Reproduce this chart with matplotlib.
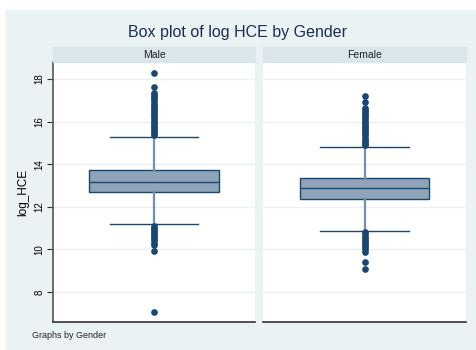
import numpy as np
import matplotlib.pyplot as plt

# box statistics for log household consumption expenditure, by gender
genders = ["Male", "Female"]
q1 = [12.71, 12.36]
medians = [13.16, 12.86]
q3 = [13.72, 13.34]
whisker_lo = [11.20, 10.87]
whisker_hi = [15.26, 14.81]

# outside values (dense runs listed as read along the column)
male_out = [18.30, 17.62, 17.35, 17.25, 17.15, 17.05, 16.95, 16.85, 16.75,
            16.65, 16.55, 16.45, 16.35, 16.25, 16.15, 16.05, 15.95, 15.85,
            15.75, 15.65, 15.55, 15.45, 15.35,
            11.12, 11.02, 10.92, 10.82, 10.72, 10.62, 10.52, 10.42, 10.32,
            10.22, 9.92, 7.06]
female_out = [17.20, 16.90, 16.65, 16.55, 16.45, 16.35, 16.25, 16.15, 16.05,
              15.95, 15.85, 15.75, 15.65, 15.55, 15.45, 15.35, 15.25, 15.15,
              15.05, 14.95, 14.88,
              10.80, 10.70, 10.60, 10.50, 10.40, 10.30, 10.20, 10.10, 10.00,
              9.88, 9.40, 9.10]
outliers = [male_out, female_out]

navy = "#1a476f"
fill = "#8fa4b9"
outer_bg = "#eaf2f3"
strip_bg = "#d9e6eb"

W, H = 476, 350
fig = plt.figure(figsize=(W / 100, H / 100), dpi=100)
fig.patch.set_facecolor("white")

# light background panel behind everything
fig.add_artist(plt.Rectangle((6 / W, 0), 1 - 6 / W, 1 - 10 / H,
                             transform=fig.transFigure, color=outer_bg, zorder=0))

fig.text(238 / W, 1 - 32 / H, "Box plot of log HCE by Gender", ha="center",
         va="center", fontsize=11.5, color="#1e2d50", family="Liberation Sans")

panels = [(53, 255), (263, 466)]
top, bottom, strip_top = 62, 322, 47

for i, (x0, x1) in enumerate(panels):
    ax = fig.add_axes([x0 / W, 1 - bottom / H, (x1 - x0) / W, (bottom - top) / H])
    ax.set_facecolor("white")
    stats = [dict(med=medians[i], q1=q1[i], q3=q3[i], whislo=whisker_lo[i],
                  whishi=whisker_hi[i], fliers=outliers[i])]
    ax.bxp(stats, positions=[0], widths=[0.64], patch_artist=True,
           boxprops=dict(facecolor=fill, edgecolor=navy, linewidth=1.0),
           medianprops=dict(color=navy, linewidth=1.0),
           whiskerprops=dict(color="#7690aa", linewidth=1.6),
           capprops=dict(color=navy, linewidth=1.0), capwidths=[0.44],
           flierprops=dict(marker="o", markerfacecolor=navy, markeredgecolor=navy,
                           markersize=3.8, linestyle="none"))
    ax.set_xlim(-0.5, 0.5)
    ax.set_ylim(6.59, 18.8)
    ax.set_yticks([8, 10, 12, 14, 16, 18])
    ax.grid(axis="y", color=outer_bg, linewidth=1.0)
    ax.set_axisbelow(True)
    ax.set_xticks([])
    for s in ["top", "right"]:
        ax.spines[s].set_visible(False)
    ax.spines["bottom"].set_color("#333333")
    ax.spines["bottom"].set_linewidth(1.2)
    if i == 0:
        ax.spines["left"].set_color("#555555")
        ax.spines["left"].set_linewidth(1.2)
        ax.tick_params(axis="y", labelsize=7, length=4, color="#333333",
                       labelrotation=90, pad=2)
        for lab in ax.get_yticklabels():
            lab.set_va("center")
            lab.set_family("Liberation Sans")
        ax.set_ylabel("log_HCE", fontsize=8.5, family="Liberation Sans", labelpad=4)
    else:
        ax.spines["left"].set_visible(False)
        ax.tick_params(axis="y", left=False, labelleft=False)

    # strip header with the group name
    fig.add_artist(plt.Rectangle((x0 / W, 1 - top / H), (x1 - x0) / W,
                                 (top - strip_top) / H, transform=fig.transFigure,
                                 color=strip_bg, zorder=1))
    fig.text((x0 + x1) / 2 / W, 1 - (top + strip_top) / 2 / H, genders[i],
             ha="center", va="center", fontsize=7.5, family="Liberation Sans",
             color="#222222")

fig.text(32 / W, 1 - 336 / H, "Graphs by Gender", ha="left", va="center",
         fontsize=6.5, family="Liberation Sans", color="#222222")

fig.savefig("out.png", dpi=100)
